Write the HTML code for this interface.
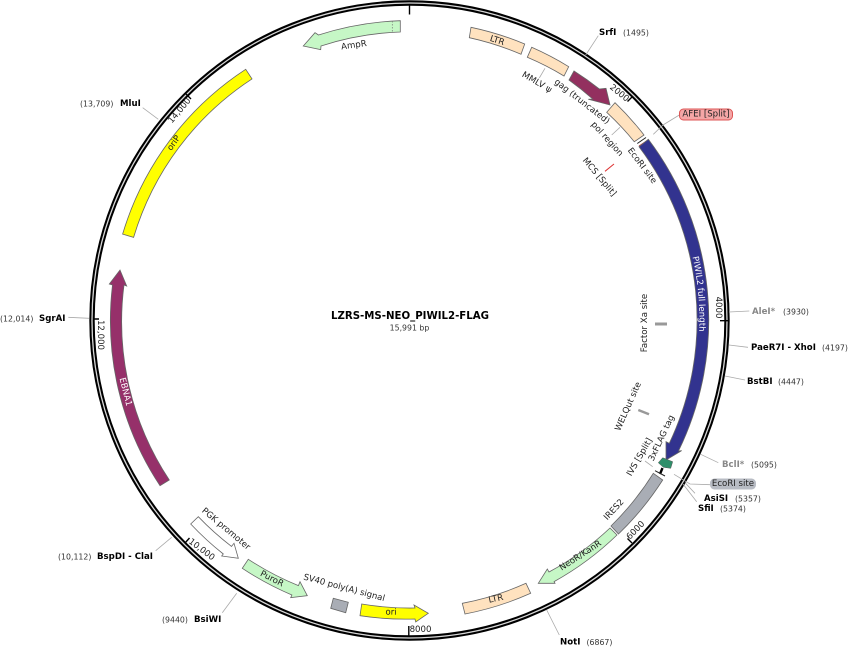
<!DOCTYPE html>
<html><head><meta charset="utf-8"><style>
html,body{margin:0;padding:0;background:#fff;width:848px;height:647px;overflow:hidden}
svg{display:block}
text{font-family:"DejaVu Sans","Liberation Sans",sans-serif;font-size:8.6px;fill:#333}
.c{text-anchor:middle;dominant-baseline:central}
.b{font-weight:bold;fill:#000;font-size:8.6px}
.g{font-weight:bold;fill:#888;font-size:8.6px}
.n{font-size:7.8px;fill:#333}
.k{fill:#222}
.w{fill:#fff}
.f{stroke:#666;stroke-width:.8}
.l{stroke:#aaa;stroke-width:.8;fill:none}
.t{stroke:#000;stroke-width:1.4}
</style></head><body>
<svg xmlns="http://www.w3.org/2000/svg" width="848" height="647" viewBox="0 0 848 647">
<circle cx="409.5" cy="320.5" r="317.5" fill="none" stroke="#000" stroke-width="5.4"/>
<circle cx="409.5" cy="320.5" r="317.5" fill="none" stroke="#d8d8d8" stroke-width="1.3"/>

<!-- ticks -->
<path class="t" d="M409.5 4V14.5M632 97L627.5 101.5M720 320.7H728M632 543L627.5 538.5M408.8 636V626M185 543L189.5 538M94 319H99M186 94L191 99"/>

<!-- features -->
<path class="f" fill="#c6f7c6" d="M400.3 20.7A299.5 299.5 0 0 0 318.5 35L315 32.7L303.3 46L320.7 49.7L321 46A288 288 0 0 1 400.3 32Z"/>
<path d="M392.3 21V32" stroke="#777" stroke-width=".7" stroke-dasharray="1.5 1.5"/>
<path class="f" fill="#ffe2bf" d="M471 27.3A299 299 0 0 1 524.7 44L521 54.3A288 288 0 0 0 469.3 37.7Z"/>
<path class="f" fill="#ffe2bf" d="M531.7 47.3A299 299 0 0 1 568.7 66.7L564 76A288 288 0 0 0 527.3 57.3Z"/>
<path class="f" fill="#93305f" d="M574 71A299 299 0 0 1 599.3 89L606 88.3L610 105L588.3 99.3L592.7 99A288 288 0 0 0 569 80Z"/>
<path class="f" fill="#ffe2bf" d="M615 102.7A299 299 0 0 1 644 135L634.3 141.7A287 287 0 0 0 606.7 112.3Z"/>
<path d="M637.3 143.5L646 137.5" stroke="#222" stroke-width="1"/>
<path d="M639 146L648 140" stroke="#c33" stroke-width="1"/>
<path class="f" fill="#32338f" d="M648.3 139.3A299.5 299.5 0 0 1 678.5 451L681.7 450.7L666 460L666 441.7L669.3 443.3A287.6 287.6 0 0 0 639 146.7Z"/>
<path fill="#2f8f6a" stroke="#555" stroke-width=".5" d="M662.7 457.7L672.7 461.7L670.7 468.3L663.3 467.3L658.3 462.7Z"/>
<path d="M662.5 468L660 474" stroke="#000" stroke-width="2.4"/>
<path d="M655 470.7L665 476" stroke="#222" stroke-width="1"/>
<path class="f" fill="#a9adb5" d="M653.3 473.3L662.7 480A299.5 299.5 0 0 1 618.5 534L611 526A288 288 0 0 0 653.3 473.3Z"/>
<path class="f" fill="#c6f7c6" d="M610 528L617 535A299 299 0 0 1 554.1 581.6L555 583.3L538.3 583.3L547.3 569L549 572A288 288 0 0 0 610 528Z"/>
<path class="f" fill="#ffe2bf" d="M526 583.3L530.7 593.3A299 299 0 0 1 465 614L462.3 603.3A288 288 0 0 0 526 583.3Z"/>
<path class="f" fill="#ffff00" d="M361.7 604L360 615.7A299 299 0 0 0 415 619L415.7 622L428.3 613.3L414 605L415 608A288 288 0 0 1 361.7 604Z"/>
<path class="f" fill="#a9adb5" d="M333.3 598.3L348.3 602.3L345.7 612.7L330.7 608.3Z"/>
<path class="f" fill="#c6f7c6" d="M248.3 559.3A288 288 0 0 0 298.4 585.6L300 581.7L307.3 595.7L290.7 597.7L291.9 595A299 299 0 0 1 242.3 568.3Z"/>
<path class="f" fill="#fff" d="M198.3 516.7A288 288 0 0 0 231.5 546.4L234 543.3L238.3 558.3L221.7 556L223.3 554A299 299 0 0 1 190.7 524Z"/>
<path class="f" fill="#96306a" d="M160 485.7A299.5 299.5 0 0 1 112.5 285L109.3 284L120 270L126.7 286L124 285A287 287 0 0 0 169.3 480Z"/>
<path class="f" fill="#ffff00" d="M122.6 234.1A299.5 299.5 0 0 1 245.7 69.3L252 78.9A288 288 0 0 0 133.6 237.4Z"/>

<!-- small marks -->
<path d="M605 171.3L614 164" stroke="#d33" stroke-width="1"/>
<path d="M655 324H667" stroke="#999" stroke-width="3"/>
<path d="M638.3 410L649 414.3" stroke="#999" stroke-width="2.4"/>

<!-- leaders -->
<path class="l" d="M598.3 35.7L585.7 55M545 68.3L539.3 78M620 127.3L611.7 135M653.3 134.3L663 125L679.3 115M729 312L749.3 311M729 345L748 347.3M725 376L745 380M700.7 454.3L718.3 462.7M674 474.3L690 484L710 484.7M685 482.7L695 493.3M683 484L696.7 501.7M546.7 610L559.3 635M236.7 593.3L222.3 612.7M171.7 537.3L155.7 550.7M68.3 317.3L89.3 318.3M142.7 107.7L158.3 119.3M645 461L652.7 466.7"/>

<!-- pills -->
<rect x="679.5" y="109" width="53" height="11" rx="4" fill="#f4a6a6" stroke="#d55" stroke-width="1"/>
<text class="c k" x="706" y="114.5">AFEI [Split]</text>
<rect x="710" y="478.5" width="46" height="11" rx="4.5" fill="#b8bcc4"/>
<text class="c k" x="733" y="484">EcoRI site</text>

<!-- center -->
<text class="c" x="410" y="316.5" style="font-size:10.2px;font-weight:bold;fill:#000">LZRS-MS-NEO_PIWIL2-FLAG</text>
<text class="c n" x="409.5" y="328">15,991 bp</text>

<!-- feature labels -->
<text class="c k" transform="rotate(18 497 41)" x="497" y="41">LTR</text>
<text class="c k" transform="rotate(30 536.7 82.7)" x="536.7" y="82.7">MMLV ψ</text>
<text class="c k" transform="rotate(38 581.7 102)" x="581.7" y="102">gag (truncated)</text>
<text class="c k" transform="rotate(48 606.7 139.3)" x="606.7" y="139.3">pol region</text>
<text class="c k" transform="rotate(50 599 177.3)" x="599" y="177.3">MCS [Split]</text>
<text class="c k" transform="rotate(53 641.7 166)" x="641.7" y="166">EcoRI site</text>
<text class="c k" transform="rotate(39 619 93.5)" x="619" y="93.5">2000</text>
<path id="pw" d="M688.2 240A290 290 0 0 1 688.2 400" fill="none"/>
<text class="w"><textPath href="#pw" startOffset="55" text-anchor="middle">PIWIL2 full length</textPath></text>
<text class="c k" transform="rotate(-90 645 323)" x="645" y="323">Factor Xa site</text>
<text class="c k" transform="rotate(-66 628.7 406.7)" x="628.7" y="406.7">WELQut site</text>
<text class="c k" transform="rotate(-65 662 438.3)" x="662" y="438.3">3xFLAG tag</text>
<text class="c k" transform="rotate(-60 640 457.3)" x="640" y="457.3">IVS [Split]</text>
<text class="c k" transform="rotate(-47 614.3 510)" x="614.3" y="510">IRES2</text>
<text class="c k" transform="rotate(-46 636 530.7)" x="636" y="530.7">6000</text>
<text class="c k" transform="rotate(-33 580.7 556)" x="580.7" y="556">NeoR/KanR</text>
<text class="c k" transform="rotate(-12 496 599.3)" x="496" y="599.3">LTR</text>
<text class="c k" x="420.5" y="630">8000</text>
<text class="c k" transform="rotate(2 391 612.7)" x="391" y="612.7">ori</text>
<text class="c k" transform="rotate(15 344 588.3)" x="344" y="588.3">SV40 poly(A) signal</text>
<text class="c k" transform="rotate(27 271.7 579.3)" x="271.7" y="579.3">PuroR</text>
<text class="c k" transform="rotate(40 225.7 529.3)" x="225.7" y="529.3">PGK promoter</text>
<text class="c k" transform="rotate(37 201.3 550)" x="201.3" y="550">10,000</text>
<text class="c w" transform="rotate(76 125 392)" x="125" y="392">EBNA1</text>
<text class="c k" transform="rotate(90 100 335)" x="100" y="335">12,000</text>
<text class="c k" transform="rotate(-55 174.3 143.3)" x="174.3" y="143.3">oriP</text>
<text class="c k" transform="rotate(-50 180 111)" x="180" y="111">14,000</text>
<text class="c k" transform="rotate(-8 354 45.7)" x="354" y="45.7">AmpR</text>
<text class="c k" transform="rotate(90 718 307.5)" x="718" y="307.5">4000</text>

<!-- enzyme labels -->
<g dominant-baseline="central">
<text class="b" x="599" y="33">SrfI</text><text class="n" x="623" y="33">(1495)</text>
<text class="g" x="752" y="312">AleI*</text><text class="n" x="783" y="312">(3930)</text>
<text class="b" x="751" y="348">PaeR7I - XhoI</text><text class="n" x="822" y="348">(4197)</text>
<text class="b" x="747" y="382">BstBI</text><text class="n" x="778" y="382">(4447)</text>
<text class="g" x="722" y="465">BclI*</text><text class="n" x="751" y="465">(5095)</text>
<text class="b" x="704" y="499">AsiSI</text><text class="n" x="735" y="499">(5357)</text>
<text class="b" x="698" y="509">SfiI</text><text class="n" x="720" y="509">(5374)</text>
<text class="b" x="560" y="642.5">NotI</text><text class="n" x="586.5" y="642.5">(6867)</text>
<text class="n" x="162" y="620">(9440)</text><text class="b" x="194" y="620">BsiWI</text>
<text class="n" x="58" y="557">(10,112)</text><text class="b" x="97" y="557">BspDI - ClaI</text>
<text class="n" x="0" y="319">(12,014)</text><text class="b" x="39" y="319">SgrAI</text>
<text class="n" x="80" y="104">(13,709)</text><text class="b" x="120" y="104">MluI</text>
</g>
</svg>
</body></html>
